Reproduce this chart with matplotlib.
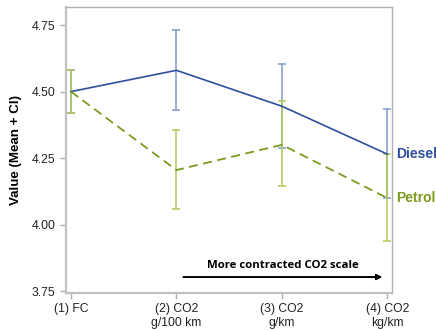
import numpy as np
import matplotlib
matplotlib.use("Agg")
from matplotlib import pyplot as plt

plt.rcParams['font.family'] = ['Liberation Sans', 'DejaVu Sans']

categories = ["(1) FC", "(2) CO2\ng/100 km", "(3) CO2\ng/km", "(4) CO2\nkg/km"]
diesel_mean = [4.50, 4.58, 4.445, 4.265]
diesel_low = [4.42, 4.43, 4.287, 4.10]
diesel_high = [4.58, 4.73, 4.605, 4.435]
petrol_mean = [4.50, 4.205, 4.30, 4.10]
petrol_low = [4.42, 4.06, 4.145, 3.94]
petrol_high = [4.58, 4.355, 4.463, 4.265]

dark_blue = "#2e4f9e"
light_blue = "#7f98cc"
dark_green = "#7b9b1c"
light_green = "#b3c95a"

x = np.arange(1, len(categories) + 1)

fig = plt.figure(figsize=(4.36, 3.30), dpi=100)
ax = fig.add_axes([66 / 436, 37 / 330, 326 / 436, 286 / 330])

dm = np.array(diesel_mean)
pm = np.array(petrol_mean)
ax.errorbar(x, dm, yerr=[dm - np.array(diesel_low), np.array(diesel_high) - dm],
            fmt="none", ecolor=light_blue, elinewidth=1.1, capsize=3, capthick=1.1)
ax.errorbar(x, pm, yerr=[pm - np.array(petrol_low), np.array(petrol_high) - pm],
            fmt="none", ecolor=light_green, elinewidth=1.1, capsize=3, capthick=1.1)
ax.plot(x, dm, color=dark_blue, lw=1.2)
ax.plot(x, pm, color=dark_green, lw=1.3, ls=(0, (5, 3)))

ax.text(4.08, dm[-1], "Diesel", color=dark_blue, fontsize=10, fontweight="bold",
        va="center", ha="left", clip_on=False)
ax.text(4.08, pm[-1], "Petrol", color=dark_green, fontsize=10, fontweight="bold",
        va="center", ha="left", clip_on=False)

ax.annotate("", xy=(3.98, 3.803), xytext=(2.04, 3.803),
            arrowprops=dict(arrowstyle="-|>", color="black", lw=1.4, mutation_scale=8))
ax.text(3.01, 3.845, "More contracted CO2 scale", ha="center", va="center",
        fontsize=8.2, fontweight="bold", family=["Open Sans", "DejaVu Sans"])

ax.set_xlim(0.953, 4.044)
ax.set_ylim(3.743, 4.818)
ax.set_xticks(x)
ax.set_xticklabels(categories, fontsize=8.7, color="#222222")
ax.set_yticks([3.75, 4.00, 4.25, 4.50, 4.75])
ax.set_yticklabels(["3.75", "4.00", "4.25", "4.50", "4.75"], fontsize=8.7, color="#222222")
ax.set_ylabel("Value (Mean + CI)", fontsize=9.6, fontweight="bold", labelpad=7)

for s in ax.spines.values():
    s.set_color("#b0b0b0")
    s.set_linewidth(1.0)
ax.spines["left"].set_color("#c0c0c0")
ax.spines["left"].set_linewidth(1.6)
ax.spines["bottom"].set_color("#c0c0c0")
ax.spines["bottom"].set_linewidth(1.6)
ax.tick_params(axis="both", colors="#b0b0b0", labelcolor="#222222", length=4, width=1)

fig.savefig("out.png", dpi=100)
